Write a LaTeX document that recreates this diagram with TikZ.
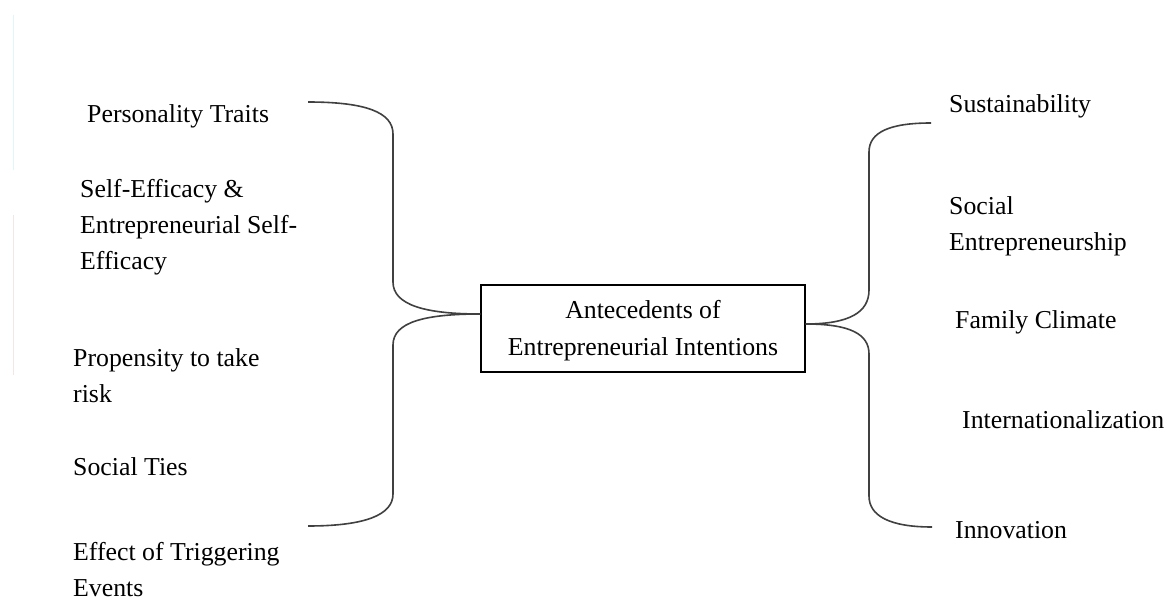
\documentclass[tikz,border=0pt]{standalone}
\usepackage{fontspec}
\setmainfont{Liberation Serif}
\usetikzlibrary{calc}
\begin{document}
\begin{tikzpicture}[x=1pt,y=-1pt,
  every node/.style={font=\fontsize{25.8}{36}\selectfont, text=black},
  item/.style={anchor=base west, inner sep=0pt, align=left},
  mainbox/.style={draw=black, line width=1.3pt, minimum width=324pt, minimum height=87pt, inner sep=0pt},
  boxtext/.style={anchor=base, inner sep=0pt, align=center},
  brace/.style={draw=black!75, line width=1.6pt},
  ghost/.style={line width=1pt}]
\useasboundingbox[fill=white] (0,0) rectangle (1169,601);
% faint scan artefacts at the left edge
\draw[ghost, draw={rgb,255:red,224;green,246;blue,250}] (13,15) -- (13,170);
\draw[ghost, draw={rgb,255:red,240;green,232;blue,226}] (13,215) -- (13,375);

\node[mainbox] (center) at (643,328.5) {};
\node[boxtext] (centertext) at (643,355) {Antecedents of\\Entrepreneurial Intentions};

% left items (base = baseline of last line)
\node[item] (pt) at (87,123) {Personality Traits};
\node[item] (se) at (80,270) {Self-Efficacy \&\\Entrepreneurial Self-\\Efficacy};
\node[item] (pr) at (73,402) {Propensity to take\\risk};
\node[item] (st) at (73,475) {Social Ties};
\node[item] (ev) at (73,596) {Effect of Triggering\\Events};

% right items
\node[item] (su) at (949,113) {Sustainability};
\node[item] (so) at (949,251) {Social\\Entrepreneurship};
\node[item] (fc) at (955,328) {Family Climate};
\node[item] (in) at (962,428) {Internationalization};
\node[item] (io) at (955,538) {Innovation};

% junctions on the box and brace end points
\coordinate (lj) at ($(center.west)+(0,-14.5)$);
\coordinate (rj) at ($(center.east)+(0,-4.5)$);
\coordinate (lt) at (308,102);
\coordinate (lb) at (308,526);
\coordinate (rt) at (931,123);
\coordinate (rb) at (932,527);

% left brace
\draw[brace] (lj) .. controls (425,314) and (393,305) .. (393,282)
  -- (393,134) .. controls (393,112) and (365,102) .. (lt);
\draw[brace] (lj) .. controls (425,314) and (393,322) .. (393,345)
  -- (393,494) .. controls (393,515) and (365,526) .. (lb);

% right brace
\draw[brace] (rj) .. controls (850,324) and (869,312) .. (869,290)
  -- (869,152) .. controls (869,132) and (890,123) .. (rt);
\draw[brace] (rj) .. controls (850,324) and (869,334) .. (869,354)
  -- (869,496) .. controls (869,516) and (890,527) .. (rb);
\end{tikzpicture}
\end{document}
